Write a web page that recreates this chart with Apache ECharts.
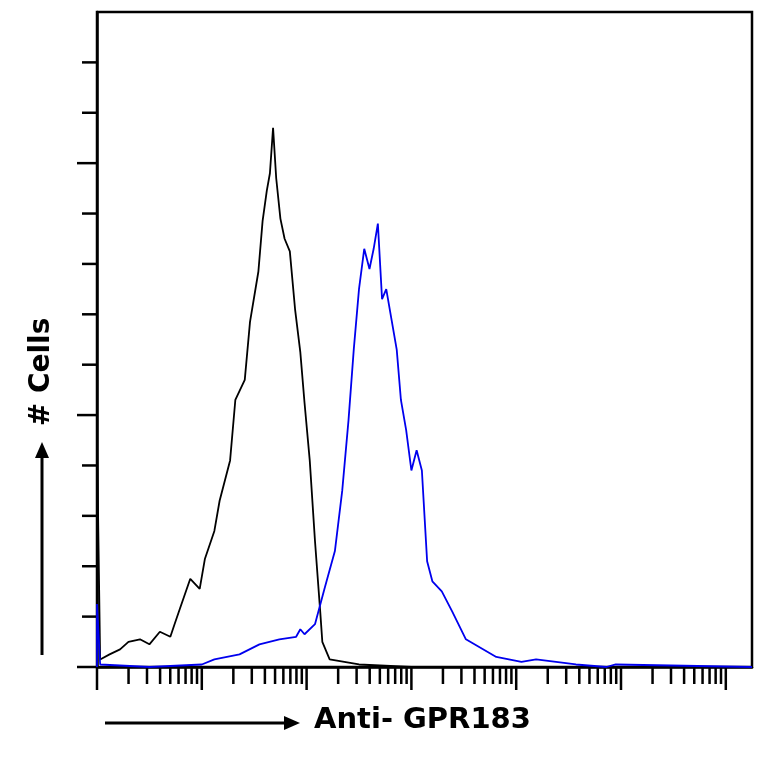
<!DOCTYPE html><html><head><meta charset="utf-8">
<script src="https://cdn.jsdelivr.net/npm/echarts@6/dist/echarts.min.js"></script>
<style>html,body{margin:0;padding:0;background:#fff}#c{width:764px;height:764px}</style></head><body><div id="c"></div>
<script>
// x in decades (log10 of intensity), y = cell counts
const blackX=[0,0,0.03,0.12,0.22,0.3,0.41,0.5,0.6,0.7,0.74,0.79,0.89,0.98,1.03,1.12,1.17,1.27,1.32,1.41,1.46,1.54,1.58,1.62,1.65,1.68,1.71,1.75,1.79,1.84,1.89,1.94,1.98,2.03,2.08,2.13,2.15,2.22,2.36,2.5,3.0,6.25];
const blackY=[0,90,3,5,7,10,11,9,14,12,17,23,35,31,43,54,66,82,106,114,137,157,177,189,196,214,194,178,170,165,142,125,105,82,50,22,10,3,2,1,0,0];
const blueX=[0,0,0.03,0.5,1.0,1.12,1.36,1.55,1.74,1.9,1.94,1.98,2.08,2.17,2.27,2.34,2.4,2.45,2.5,2.55,2.6,2.64,2.68,2.72,2.76,2.81,2.86,2.9,2.95,3.0,3.05,3.1,3.15,3.2,3.29,3.39,3.52,3.81,4.05,4.19,4.57,4.86,4.95,6.25];
const blueY=[0,25,1,0,1,3,5,9,11,12,15,13,17,31,46,70,98,126,150,166,158,166,176,146,150,138,126,106,94,78,86,78,42,34,30,22,11,4,2,3,1,0,1,0];
const minorTicks=[];const majorTicks=[];
for(let d=0;d<7;d++){majorTicks.push([d,0]);for(let k=2;k<10;k++){const v=d+Math.log10(k);if(v<6.25)minorTicks.push([v,0]);}}
const yMinor=[20,40,60,80,120,140,160,180,220,240];const yMajor=[0,100,200];
const chart=echarts.init(document.getElementById('c'));
function tick(len){return function(params,api){const p=api.coord([api.value(0),0]);return{type:'line',shape:{x1:p[0],y1:p[1],x2:p[0],y2:p[1]+len},style:{stroke:'#000',lineWidth:2.5}};};}
function ytick(len){return function(params,api){const p=api.coord([0,api.value(0)]);return{type:'line',shape:{x1:p[0]-len,y1:p[1],x2:p[0],y2:p[1]},style:{stroke:'#000',lineWidth:2.5}};};}
chart.setOption({
animation:false,
grid:{left:97,top:12,right:12,bottom:97,show:true,borderColor:'#000',borderWidth:2.5},
xAxis:{type:'value',min:0,max:6.25,axisLine:{onZero:false,lineStyle:{color:'#000',width:2.5}},axisTick:{show:false},axisLabel:{show:false},splitLine:{show:false}},
yAxis:{type:'value',min:0,max:260,axisLine:{show:true,lineStyle:{color:'#000',width:2.5}},axisTick:{show:false},axisLabel:{show:false},splitLine:{show:false}},
series:[
{type:'line',data:blackX.map((x,i)=>[x,blackY[i]]),symbol:'none',lineStyle:{color:'#000',width:1.8}},
{type:'line',data:blueX.map((x,i)=>[x,blueY[i]]),symbol:'none',lineStyle:{color:'#0000ee',width:1.8}},
{type:'custom',data:minorTicks,renderItem:tick(17),clip:false,silent:true},
{type:'custom',data:majorTicks,renderItem:tick(23),clip:false,silent:true},
{type:'custom',data:yMinor.map(v=>[v]),renderItem:ytick(15),clip:false,silent:true},
{type:'custom',data:yMajor.map(v=>[v]),renderItem:ytick(20),clip:false,silent:true}
],
graphic:[
{type:'line',shape:{x1:105,y1:723,x2:290,y2:723},style:{stroke:'#000',lineWidth:3}},
{type:'polygon',shape:{points:[[300,723],[284,716],[284,730]]},style:{fill:'#000'}},
{type:'text',left:314,top:706,style:{text:'Anti- GPR183',font:'bold 29px "DejaVu Sans"',fill:'#000'}},
{type:'line',shape:{x1:42,y1:655,x2:42,y2:452},style:{stroke:'#000',lineWidth:3}},
{type:'polygon',shape:{points:[[42,442],[35,458],[49,458]]},style:{fill:'#000'}},
{type:'text',x:42,y:372,rotation:Math.PI/2,style:{text:'# Cells',font:'bold 28px "DejaVu Sans"',fill:'#000',align:'center',verticalAlign:'middle'}}
]});
</script></body></html>
